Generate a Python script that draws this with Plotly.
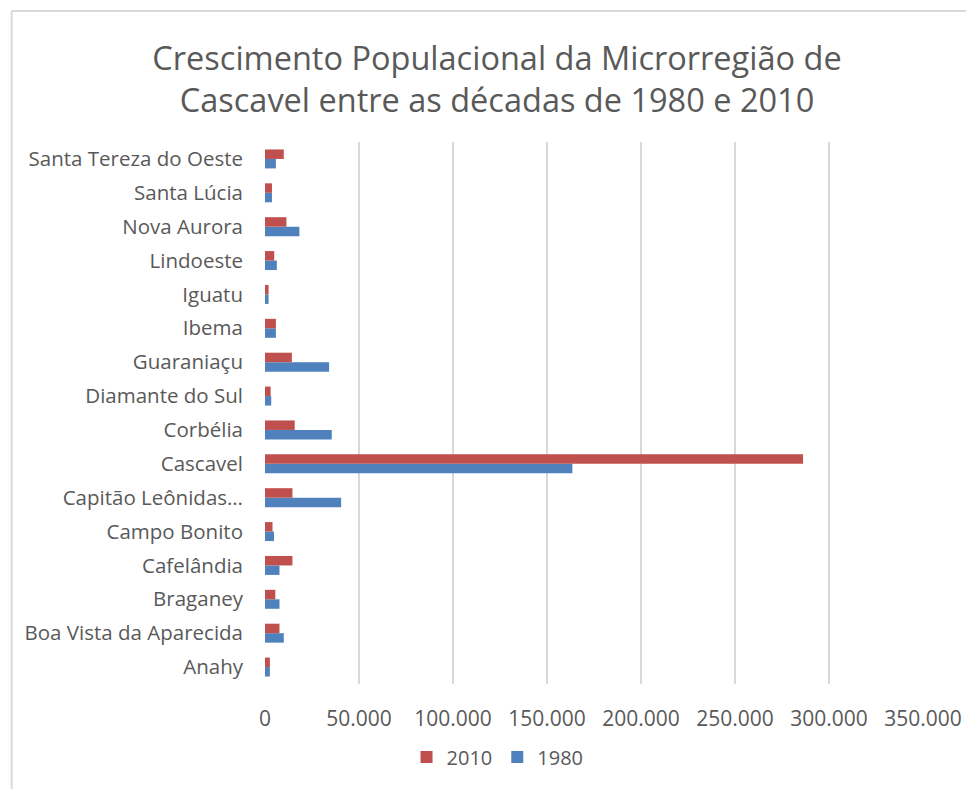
import plotly.graph_objects as go

categories = ["Anahy", "Boa Vista da Aparecida", "Braganey", "Cafelândia", "Campo Bonito",
              "Capitão Leônidas…", "Cascavel", "Corbélia", "Diamante do Sul", "Guaraniaçu",
              "Ibema", "Iguatu", "Lindoeste", "Nova Aurora", "Santa Lúcia", "Santa Tereza do Oeste"]
pop_1980 = [2600, 10000, 7700, 7700, 4800, 40500, 163500, 35500, 3300, 34100,
            5800, 1900, 6300, 18300, 3700, 5800]
pop_2010 = [2600, 7700, 5500, 14600, 4000, 14600, 286200, 15800, 3000, 14300,
            5800, 1900, 4900, 11400, 3700, 10000]
x_ticks = [0, 50000, 100000, 150000, 200000, 250000, 300000, 350000]
x_labels = ["0", "50.000", "100.000", "150.000", "200.000", "250.000", "300.000", "350.000"]

FONT = "Open Sans"
GRAY = "#595959"

fig = go.Figure()
fig.add_trace(go.Bar(y=categories, x=pop_1980, orientation="h", name="1980",
                     marker=dict(color="#4F81BD", line=dict(width=0))))
fig.add_trace(go.Bar(y=categories, x=pop_2010, orientation="h", name="2010",
                     marker=dict(color="#C0504D", line=dict(width=0))))

# page has an 8px body margin; figure coordinates = page coordinates - 8
OFF = 8
W, H = 966, 781
L = 265 - OFF
T = 142 - OFF
plot_right = 930 - OFF
plot_bottom = 684 - OFF
R = W - plot_right
B = H - plot_bottom
pw = W - L - R
ph = H - T - B

fig.update_layout(
    width=W, height=H,
    margin=dict(l=L, r=R, t=T, b=B),
    paper_bgcolor="white", plot_bgcolor="white",
    barmode="group", bargap=0.44, bargroupgap=0,
    title=dict(text="Crescimento Populacional da Microrregião de<br>Cascavel entre as décadas de 1980 e 2010",
               x=(497 - OFF) / W, xanchor="center", xref="container",
               y=1 - (70 - OFF) / H, yanchor="middle", yref="container",
               font=dict(family=FONT, size=32.5, color=GRAY)),
    xaxis=dict(range=[0, 350000], tickvals=x_ticks, ticktext=x_labels,
               showgrid=True, gridcolor="#D9D9D9", gridwidth=1.5,
               zeroline=False, showline=False, ticks="", ticklabelstandoff=20,
               tickfont=dict(family=FONT, size=21, color=GRAY)),
    yaxis=dict(showgrid=False, zeroline=False, showline=False, ticks="",
               ticklabelstandoff=21,
               tickfont=dict(family=FONT, size=20.5, color=GRAY)),
    legend=dict(orientation="h", traceorder="reversed", itemwidth=30,
                x=(500 - OFF - L) / pw, xanchor="center",
                y=-(757 - OFF - plot_bottom) / ph, yanchor="middle",
                font=dict(family=FONT, size=20, color=GRAY)),
    showlegend=True,
)

# outer chart frame (top and left edges visible)
top_y = (plot_bottom - (11 - OFF)) / ph
left_x = ((9 - OFF) - L) / pw
fig.add_shape(type="line", xref="paper", yref="paper",
              x0=left_x, x1=(W + 5 - L) / pw, y0=top_y, y1=top_y,
              line=dict(color="#D9D9D9", width=2))
fig.add_shape(type="line", xref="paper", yref="paper",
              x0=left_x, x1=left_x, y0=top_y, y1=-(B + 5) / ph,
              line=dict(color="#D9D9D9", width=2))

fig.write_html("out.html")
